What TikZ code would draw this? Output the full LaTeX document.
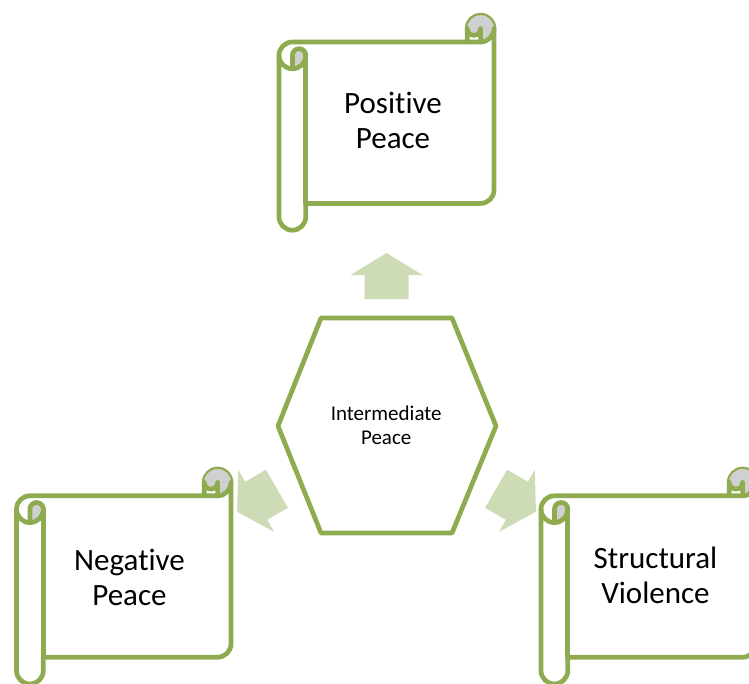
\documentclass[tikz,border=0pt]{standalone}
\usepackage{fontspec}
\setmainfont{Carlito}[Ligatures=NoCommon]
\definecolor{scrollgreen}{RGB}{143,171,80}
\definecolor{arrowgreen}{RGB}{205,220,183}
\definecolor{curlgrey}{RGB}{208,208,208}
\tikzset{
  outline/.style={draw=scrollgreen, line width=4.7pt, line join=round, line cap=round},
  curlshade/.style={fill=curlgrey, draw=none},
  flowarrow/.style={fill=arrowgreen, draw=none},
  bigtext/.style={align=center, inner sep=0pt, font=\fontsize{31}{35}\selectfont},
  smalltext/.style={align=center, inner sep=0pt, font=\fontsize{21}{24}\selectfont},
}
% Horizontal scroll: #1,#2 = top-left corner, #3 = width, #4 = height (y grows downwards)
\newcommand{\scrollshape}[4]{%
  \begin{scope}[shift={(#1,#2)}]
    \def\sw{#3}\def\sh{#4}%
    \def\rc{26.8}\def\rh{13.4}\def\rq{6.7}%
    % sheet with the roll on the left and the curl on the top right
    \draw[outline, fill=white] (0,{1.5*\rc}) arc[start angle=180, delta angle=90, radius=\rh]
      -- ({\sw-\rc},\rc) -- ({\sw-\rc},\rh) arc[start angle=180, delta angle=180, radius=\rh]
      -- (\sw,{\sh-1.5*\rc}) arc[start angle=0, delta angle=90, radius=\rh]
      -- (\rc,{\sh-\rc}) -- (\rc,{\sh-\rh}) arc[start angle=0, delta angle=180, radius=\rh]
      -- cycle;
    % shaded insides of the two curls
    \fill[curlshade] ({\sw-\rh},\rc) arc[start angle=90, delta angle=-270, radius=\rh]
      arc[start angle=180, delta angle=-180, radius=\rq] -- cycle;
    \fill[curlshade] (\rh,{2*\rc}) arc[start angle=90, delta angle=-90, radius=\rh]
      arc[start angle=0, delta angle=-180, radius=\rq] -- cycle;
    % curl details
    \draw[outline] ({\sw-\rc},\rc) -- ({\sw-\rh},\rc) arc[start angle=90, delta angle=-90, radius=\rh];
    \draw[outline] ({\sw-\rh},\rc) -- ({\sw-\rh},\rh) arc[start angle=0, delta angle=180, radius=\rq];
    \draw[outline] (\rh,{2*\rc}) -- (\rh,{1.5*\rc}) arc[start angle=180, delta angle=180, radius=\rq]
      arc[start angle=0, delta angle=180, radius=\rh];
    \draw[outline] (\rc,{1.5*\rc}) -- (\rc,{\sh-\rc});
  \end{scope}}
\begin{document}
\begin{tikzpicture}[x=1pt, y=-1pt]
  \useasboundingbox (0,0) rectangle (749,683);
  \clip (0,0) rectangle (749,683);

  % block arrows leaving the hexagon
  \foreach \ang in {0,120,-120}{
    \fill[flowarrow, rotate around={\ang:(386.5,425.5)}]
      (386.5,253) -- (422.5,275) -- (408.5,275) -- (408.5,299)
      -- (364.5,299) -- (364.5,275) -- (350.5,275) -- cycle;
  }

  % central hexagon
  \draw[outline, fill=white] (321,318) -- (452,318) -- (496,426) -- (452,533)
    -- (321,533) -- (278,426) -- cycle;
  \node[smalltext] (intermediate) at (386.2,425.5) {Intermediate\\Peace};

  % scrolls
  \scrollshape{279}{15.2}{215}{215}
  \scrollshape{16.5}{469}{214.5}{215}
  \scrollshape{541}{469}{215}{215}

  % separate t and i so no ligature is formed
  \node[bigtext] (positive) at (393,120.5) {Posit\kern0pt ive\\Peace};
  \node[bigtext] (negative) at (129.5,577.5) {Negat\kern0pt ive\\Peace};
  \node[bigtext] (structural) at (655.5,575.5) {Structural\\Violence};
\end{tikzpicture}
\end{document}
